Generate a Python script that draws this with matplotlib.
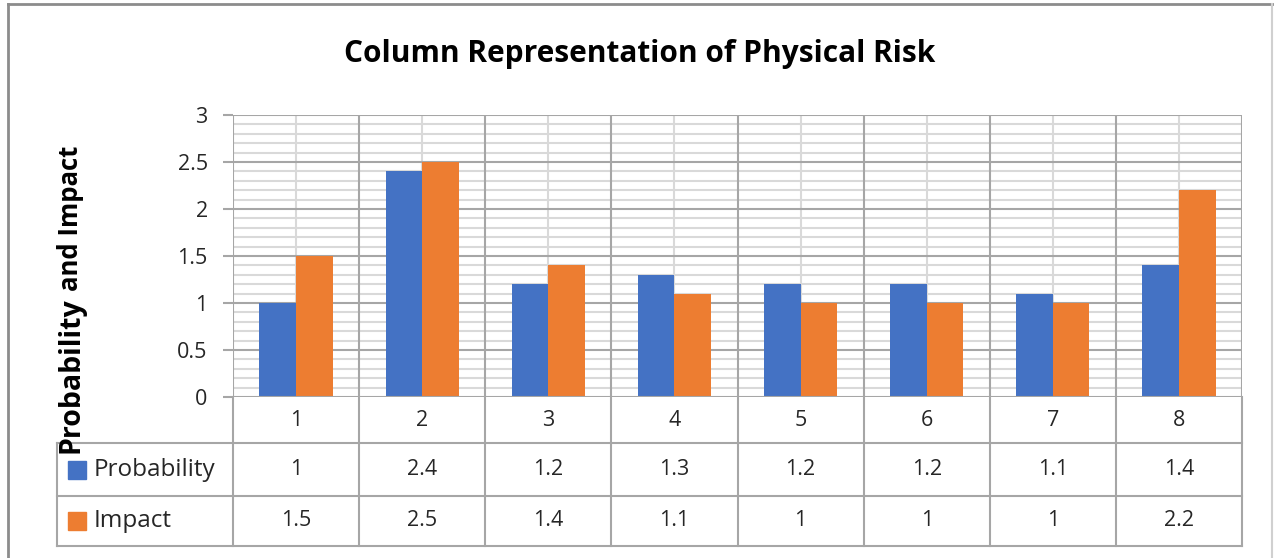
import matplotlib
matplotlib.use("Agg")
import matplotlib.pyplot as plt
import numpy as np
from matplotlib.patches import Rectangle
from matplotlib.lines import Line2D

# Data
categories = ["1", "2", "3", "4", "5", "6", "7", "8"]
probability = [1, 2.4, 1.2, 1.3, 1.2, 1.2, 1.1, 1.4]
impact = [1.5, 2.5, 1.4, 1.1, 1, 1, 1, 2.2]
series_names = ["Probability", "Impact"]
title = "Column Representation of Physical Risk"

BLUE = "#4472C4"
ORANGE = "#ED7D31"
MAJOR = "#a6a6a6"
MINOR = "#d9d9d9"
FONT = "Open Sans"
TXT = "#262626"

W, H = 1275, 558
fig = plt.figure(figsize=(W / 100, H / 100), dpi=100)


def fx(px):
    return px / W


def fy(py):
    return 1 - py / H


# plot area
L, R, T, B = 233, 1242, 115, 397
ax = fig.add_axes([fx(L), fy(B), fx(R) - fx(L), fy(T) - fy(B)])
n = len(categories)
x = np.arange(n)
bw = 0.29
ax.bar(x - bw / 2, probability, bw, color=BLUE, zorder=3)
ax.bar(x + bw / 2, impact, bw, color=ORANGE, zorder=3)
ax.set_xlim(-0.5, n - 0.5)
ax.set_ylim(0, 3)

# gridlines
for v in np.arange(0.1, 3.0, 0.1):
    if abs(v * 2 - round(v * 2)) > 1e-6:
        ax.axhline(v, color=MINOR, lw=1.5, zorder=1)
for v in np.arange(0.5, 3.01, 0.5):
    ax.axhline(v, color=MAJOR, lw=1.5, zorder=2)
for c in x:
    ax.axvline(c, color=MINOR, lw=1.5, zorder=1)
for c in np.arange(-0.5, n, 1.0):
    ax.axvline(c, color=MAJOR, lw=1.5, zorder=2)

for s in ax.spines.values():
    s.set_visible(False)
ax.set_xticks([])
ax.set_yticks(np.arange(0, 3.01, 0.5))
ax.set_yticklabels(["0", "0.5", "1", "1.5", "2", "2.5", "3"])
ax.tick_params(axis="y", length=7.2, width=1.5, color=MAJOR, pad=11,
               labelsize=15.5, labelcolor=TXT)
for lab in ax.get_yticklabels():
    lab.set_fontfamily(FONT)
ax.axhline(0, color=MAJOR, lw=1.5, zorder=4)

# data table under the plot
rows_y = [B, 443, 496, 546]
TL = 57
line_kw = dict(color=MAJOR, lw=1.5, transform=fig.transFigure)
for ry in rows_y[1:]:
    fig.add_artist(Line2D([fx(TL), fx(R)], [fy(ry), fy(ry)], **line_kw))
fig.add_artist(Line2D([fx(TL), fx(TL)], [fy(rows_y[1]), fy(rows_y[3])], **line_kw))
xb = ax.get_xaxis_transform()
for c in np.arange(-0.5, n, 1.0):
    ax.plot([c, c], [0, (fy(rows_y[3]) - fy(B)) / (fy(T) - fy(B))],
            color=MAJOR, lw=1.5, transform=xb, clip_on=False, zorder=2)


def row_y(i):
    mid = (rows_y[i] + rows_y[i + 1]) / 2
    return (fy(mid) - fy(B)) / (fy(T) - fy(B))


tkw = dict(ha="center", va="center", fontsize=15.5, color=TXT,
           fontfamily=FONT, transform=xb)
for i, c in enumerate(categories):
    ax.text(i, row_y(0), c, **tkw)
    ax.text(i, row_y(1), f"{probability[i]:g}", **tkw)
    ax.text(i, row_y(2), f"{impact[i]:g}", **tkw)

for k, (name, col) in enumerate(zip(series_names, [BLUE, ORANGE])):
    mid = (rows_y[k + 1] + rows_y[k + 2]) / 2
    fig.add_artist(Rectangle((fx(68), fy(mid + 9)), fx(18), fy(0) - fy(18),
                             color=col, transform=fig.transFigure))
    fig.text(fx(94), fy(mid), name, ha="left", va="center", fontsize=17.5,
             color=TXT, fontfamily=FONT)

# title and axis label
fig.text(fx(640), fy(54), title, ha="center", va="center", fontsize=21.5,
         fontweight="bold", fontfamily=FONT, color="#000000")
fig.text(fx(78), fy(453), "Probability", rotation=90, rotation_mode="anchor",
         ha="left", va="baseline", fontsize=20.5, fontweight="bold",
         fontfamily=FONT, color="#000000")
fig.text(fx(78), fy(291), "and Impact", rotation=90, rotation_mode="anchor",
         ha="left", va="baseline", fontsize=18.5, fontweight="bold",
         fontfamily=FONT, color="#000000")

# outer chart frame
fig.add_artist(Line2D([fx(8), fx(1272)], [fy(4), fy(4)], color="#8c8c8c", lw=2,
                      transform=fig.transFigure))
fig.add_artist(Line2D([fx(8), fx(8)], [fy(4), fy(558)], color="#8c8c8c", lw=2,
                      transform=fig.transFigure))
fig.add_artist(Line2D([fx(1272), fx(1272)], [fy(4), fy(558)], color="#d0d0d0", lw=1.5,
                      transform=fig.transFigure))

fig.savefig("out.png", dpi=100)
